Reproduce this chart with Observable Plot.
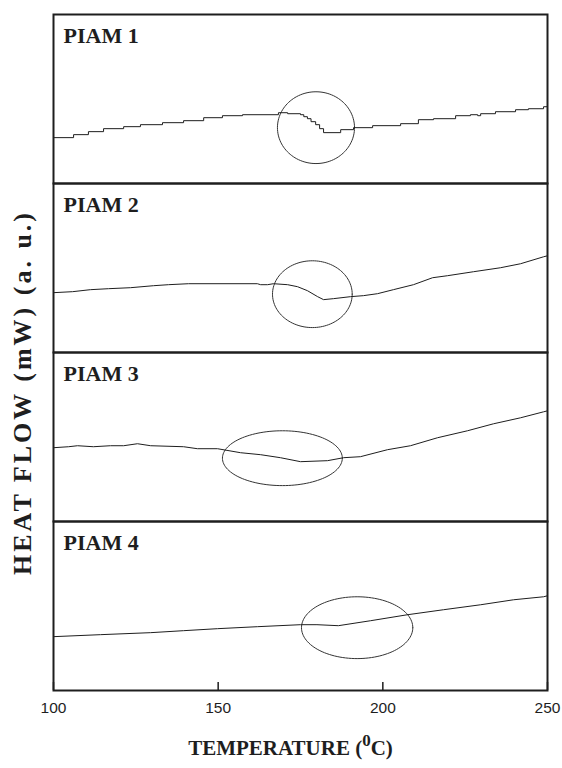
<!DOCTYPE html>
<html><head><meta charset="utf-8">
<script src="https://cdn.jsdelivr.net/npm/d3@7"></script>
<script src="https://cdn.jsdelivr.net/npm/@observablehq/plot@0.6"></script>
<style>body{margin:0;background:#fff}</style>
</head><body><div id="chart"></div>
<script>
const panels = ["PIAM 1", "PIAM 2", "PIAM 3", "PIAM 4"];
const xTicks = [100, 150, 200, 250];

// PIAM 1 (stepped trace)
const temp1 = [100, 106.1, 110.6, 115.2, 121.3, 126.4, 133.1, 139.5, 145.6, 151.3, 157.4, 168.3, 171.1, 175.0, 176.0, 177.1, 178.2, 179.6, 180.8, 182.0, 187.2, 191.1, 196.9, 205.4, 210.8, 215.4, 222.1, 226.6, 228.8, 229.7, 234.2, 240.3, 244.2, 248.8, 250];
const flow1 = [46, 49, 52, 55, 57, 59, 61, 63, 66, 68, 69, 71, 70, 69, 67, 65, 62, 59, 55, 51, 54, 56, 58, 60, 64, 65, 68, 69, 68, 70, 72, 74, 75, 77, 78];
// PIAM 2
const temp2 = [100, 105.8, 111.2, 116.7, 123.4, 130.4, 134.9, 141.0, 161.9, 162.9, 165.0, 166.8, 171.1, 174.1, 177.1, 180.2, 182.0, 185.0, 190.2, 194.1, 198.4, 203.2, 209.3, 215.1, 219.6, 227.5, 235.7, 241.8, 248.8, 250];
const flow2 = [60, 61, 63, 64, 65, 67, 68, 69, 69, 68, 68, 69, 68, 66, 62, 56, 53, 54, 56, 57, 59, 63, 68, 75, 77, 81, 85, 89, 96, 97];
// PIAM 3
const temp3 = [100, 104.6, 107.3, 112.1, 117.3, 121.3, 125.5, 129.5, 139.5, 143.7, 149.8, 156.8, 162.9, 168.9, 175.0, 183.2, 188.1, 193.2, 201.4, 208.4, 216.6, 225.7, 233.6, 241.8, 248.8, 250];
const flow3 = [74, 75, 76, 75, 76, 76, 78, 76, 75, 73, 73, 69, 67, 64, 60, 61, 64, 65, 72, 76, 84, 91, 98, 104, 110, 111];
// PIAM 4
const temp4 = [100, 114.3, 129.5, 139.5, 149.8, 161.9, 175.0, 180.0, 186.5, 196.3, 207.5, 218.4, 229.7, 239.7, 248.8, 250];
const flow4 = [54, 56, 58, 60, 62, 64, 66, 66, 65, 70, 76, 81, 86, 91, 94, 95];

// highlight ellipses (centre and half-axes, in data units)
const ellipseT = [179.7, 178.6, 169.5, 192.2];
const ellipseV = [56, 58.5, 63.5, 63];
const ellipseHalfT = [11.7, 12.1, 18.2, 16.9];
const ellipseHalfV = [36, 33.5, 27.5, 31];

const rows = (panel, T, V) => T.map((t, i) => ({panel, t, v: V[i]}));
const curve1 = rows(panels[0], temp1, flow1);
const curvesRest = [
  ...rows(panels[1], temp2, flow2),
  ...rows(panels[2], temp3, flow3),
  ...rows(panels[3], temp4, flow4)
];
const ellipsePts = panels.flatMap((p, k) => d3.range(0, 361, 3).map(a => {
  const r = a * Math.PI / 180;
  return {panel: p, t: ellipseT[k] + ellipseHalfT[k] * Math.cos(r), v: ellipseV[k] + ellipseHalfV[k] * Math.sin(r)};
}));

const ink = "#1e1e1e";
const chart = Plot.plot({
  width: 562, height: 768,
  marginTop: 13, marginLeft: 53, marginRight: 15, marginBottom: 77,
  style: {fontFamily: "Liberation Sans", color: ink, background: "#fff"},
  x: {domain: [100, 250]},
  y: {domain: [0, 169.5], axis: null},
  fy: {domain: panels, padding: 0},
  marks: [
    Plot.line(ellipsePts, {x: "t", y: "v", fy: "panel", z: "panel", stroke: "#333", strokeWidth: 1}),
    Plot.line(curve1, {x: "t", y: "v", fy: "panel", curve: "step-after", stroke: ink, strokeWidth: 1}),
    Plot.line(curvesRest, {x: "t", y: "v", fy: "panel", z: "panel", stroke: ink, strokeWidth: 1}),
    Plot.text(panels, {fy: d => d, text: d => d, frameAnchor: "top-left", dx: 10, dy: 13, lineAnchor: "top", textAnchor: "start", fontSize: 22, fontWeight: "bold", fontFamily: "Liberation Serif", fill: ink}),
    Plot.frame({stroke: ink, strokeWidth: 2}),
    Plot.axisX({ticks: xTicks, tickSize: -8, tickPadding: 19, fontSize: 15.5, strokeWidth: 1.5, label: "TEMPERATURE (0C)", labelAnchor: "center", labelOffset: 64}),
    Plot.axisFy({anchor: "left", ticks: [], label: "HEAT FLOW (mW) (a. u.)", labelAnchor: "center", labelOffset: 41})
  ]
});
document.getElementById("chart").appendChild(chart);

const svg = d3.select(chart);
const xl = svg.select('g[aria-label="x-axis label"]');
xl.attr("font-size", 21).attr("font-weight", "bold").attr("font-family", "Liberation Serif")
  .attr("transform", ((xl.attr("transform") || "") + " translate(-10,0)").trim());
const xt = xl.select("text");
xt.text("");
xt.append("tspan").text("TEMPERATURE (");
xt.append("tspan").attr("dy", -9).attr("font-size", 17).text("0");
xt.append("tspan").attr("dy", 9).text("C)");
const yl = svg.select('g[aria-label="fy-axis label"]');
yl.attr("font-size", 26).attr("font-weight", "bold").attr("font-family", "Liberation Serif")
  .attr("letter-spacing", "3px")
  .attr("transform", ((yl.attr("transform") || "") + " translate(0,40)").trim());
</script>
</body></html>
